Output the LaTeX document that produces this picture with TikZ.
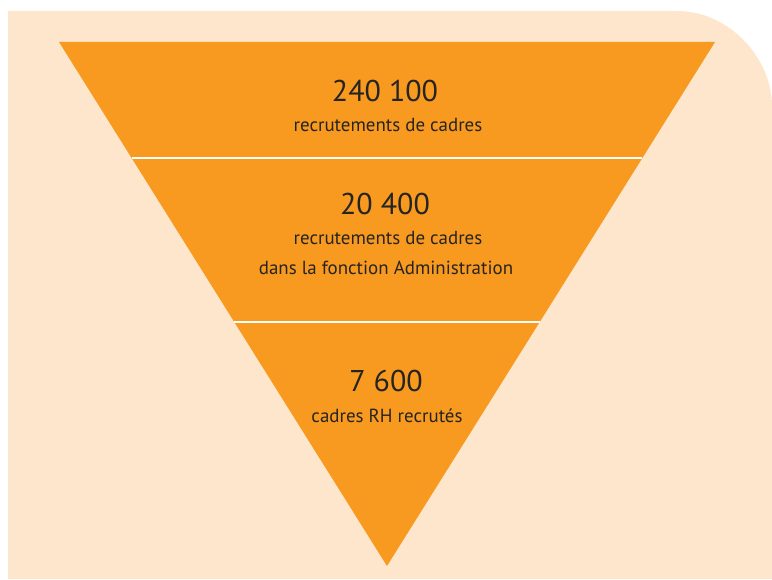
\documentclass[tikz,border=0pt]{standalone}
\usepackage{fontspec}
\setmainfont{PT Sans}
\usetikzlibrary{calc}

\definecolor{peach}{RGB}{253,230,204}
\definecolor{funnel}{RGB}{248,154,31}
\definecolor{ink}{RGB}{38,36,34}

\tikzset{
  bignum/.style={ink, anchor=base, inner sep=0pt, font=\fontsize{22.5}{26}\selectfont},
  smalltxt/.style={ink, anchor=base, inner sep=0pt, font=\fontsize{14.2}{16}\selectfont},
  divider/.style={white, line width=1.5pt}
}

\begin{document}
\begin{tikzpicture}[x=0.75pt,y=-0.75pt]

\useasboundingbox (0,0) rectangle (772,580);

% background panel, rounded top right
\fill [peach] (8,579) -- (8,11) -- (677,11)
   .. controls (729.5,11) and (772,58.5) .. (772,106) -- (772,579) -- cycle;

% funnel
\coordinate (tl) at (59,42);
\coordinate (tr) at (715,42);
\coordinate (apex) at (387,566);
\fill [funnel] (tl) -- (tr) -- (apex) -- cycle;

\coordinate (d1l) at ($(tl)!0.2214!(apex)$);
\coordinate (d1r) at ($(tr)!0.2214!(apex)$);
\coordinate (d2l) at ($(tl)!0.5344!(apex)$);
\coordinate (d2r) at ($(tr)!0.5344!(apex)$);
\draw [divider] (d1l) -- (d1r);
\draw [divider] (d2l) -- (d2r);

% labels
\node (n1) at (385,102) [bignum] {240 100};
\node (t1) at (388,132) [smalltxt] {recrutements de cadres};

\node (n2) at (385,215) [bignum] {20 400};
\node (t2) at (388,245) [smalltxt] {recrutements de cadres};
\node (t3) at (386,275) [smalltxt] {dans la fonction Administration};

\node (n3) at (386,392) [bignum] {7 600};
\node (t4) at (387,423) [smalltxt] {cadres RH recrutés};

\end{tikzpicture}
\end{document}
